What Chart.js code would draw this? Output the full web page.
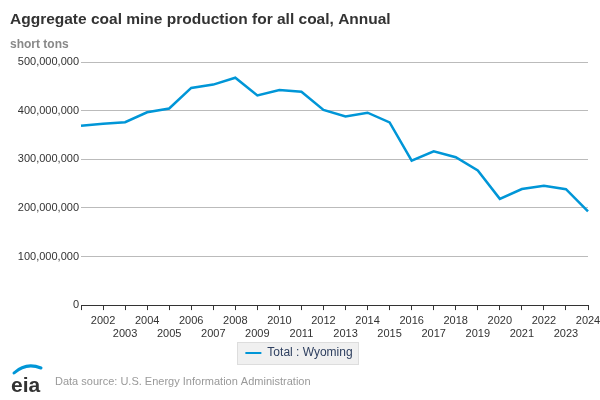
<!DOCTYPE html>
<html>
<head>
<meta charset="utf-8">
<script src="https://cdn.jsdelivr.net/npm/chart.js@4/dist/chart.umd.min.js"></script>
<style>
  html, body { margin: 0; padding: 0; background: #fff; }
  #wrap { width: 600px; height: 400px; }
</style>
</head>
<body>
<div id="wrap"><canvas id="chart" width="600" height="400"></canvas></div>
<script>
const years = ['2001', '2002', '2003', '2004', '2005', '2006', '2007', '2008', '2009', '2010', '2011', '2012',
  '2013', '2014', '2015', '2016', '2017', '2018', '2019', '2020', '2021', '2022', '2023', '2024'];
const wyoming = [368749, 373161, 376270, 396493, 404319, 446742, 453568, 467644, 431107, 442522, 438673, 401442,
  387924, 395665, 375773, 297218, 316454, 304188, 276890, 218458, 238713, 245300, 238500, 193000].map(v => v * 1000);
const yTicks = [0, 100000000, 200000000, 300000000, 400000000, 500000000];

const FONT = 'Arial, "Liberation Sans", Helvetica, sans-serif';
const BLUE = '#0096d7';

const legendBox = {
  id: 'legendBox',
  beforeDraw(chart) {
    const lg = chart.legend;
    if (!lg || !lg.legendHitBoxes.length) return;
    const hb = lg.legendHitBoxes[0];
    const ctx = chart.ctx;
    ctx.save();
    ctx.fillStyle = '#f0f0f0';
    ctx.strokeStyle = '#dddddd';
    ctx.lineWidth = 1;
    const x = Math.round(hb.left - 8) + 0.5, y = Math.round(hb.top - 5) + 0.5;
    const w = Math.round(hb.width + 14), h = Math.round(hb.height + 10);
    ctx.fillRect(x, y, w, h);
    ctx.strokeRect(x, y, w, h);
    ctx.restore();
  }
};

const footer = {
  id: 'footer',
  afterDraw(chart) {
    const ctx = chart.ctx;
    ctx.save();
    // eia logo
    ctx.fillStyle = '#333333';
    ctx.font = 'bold 21px ' + FONT;
    ctx.textBaseline = 'alphabetic';
    ctx.fillText('eia', 11, 392);
    ctx.strokeStyle = BLUE;
    ctx.lineWidth = 3;
    ctx.lineCap = 'round';
    ctx.beginPath();
    ctx.moveTo(14, 373);
    ctx.quadraticCurveTo(26, 362, 41, 368);
    ctx.stroke();
    // source text
    ctx.fillStyle = '#999999';
    ctx.font = '11px ' + FONT;
    ctx.textBaseline = 'middle';
    ctx.fillText('Data source: U.S. Energy Information Administration', 55, 382);
    ctx.restore();
  }
};

new Chart(document.getElementById('chart'), {
  type: 'line',
  data: {
    labels: years,
    datasets: [{
      label: 'Total : Wyoming',
      data: wyoming,
      borderColor: BLUE,
      backgroundColor: BLUE,
      borderWidth: 2.5,
      pointRadius: 0,
      tension: 0,
    }]
  },
  options: {
    responsive: false,
    animation: false,
    layout: { padding: { left: 10, right: 12, top: 0, bottom: 31 } },
    plugins: {
      title: {
        display: true,
        text: 'Aggregate coal mine production for all coal, Annual',
        align: 'start',
        color: '#333333',
        font: { family: FONT, size: 15.5, weight: 'bold' },
        padding: { top: 10, bottom: 0 },
      },
      subtitle: {
        display: true,
        text: 'short tons',
        align: 'start',
        color: '#888888',
        font: { family: FONT, size: 12, weight: 'bold' },
        padding: { top: 9, bottom: 10 },
      },
      legend: {
        position: 'bottom',
        labels: {
          color: '#2f4060',
          font: { family: FONT, size: 12 },
          boxWidth: 16,
          boxHeight: 2,
          padding: 2.5,
          generateLabels(chart) {
            return chart.data.datasets.map((ds, i) => ({
              text: ds.label,
              fillStyle: ds.borderColor,
              strokeStyle: ds.borderColor,
              lineWidth: 0,
              fontColor: '#2f4060',
              datasetIndex: i,
            }));
          }
        }
      },
      tooltip: { enabled: false },
    },
    scales: {
      x: {
        afterFit(scale) { scale.paddingRight = 0; scale.paddingLeft = 0; },
        grid: { drawOnChartArea: false, drawTicks: true, tickLength: 5, color: '#333333' },
        border: { display: true, color: '#333333' },
        ticks: {
          color: '#333333',
          font: { family: FONT, size: 11 },
          autoSkip: false,
          maxRotation: 0,
          padding: 4,
          callback(value, index) {
            const y = years[index];
            if (index === 0) return '';
            return (Number(y) % 2 === 0) ? y : ['', y];
          }
        }
      },
      y: {
        min: 0,
        max: 500000000,
        afterBuildTicks(scale) { scale.ticks = yTicks.map(v => ({ value: v })); },
        afterFit(scale) { scale.width = 71; },
        grid: { color: '#bbbbbb', drawTicks: false },
        border: { display: false },
        ticks: {
          color: '#333333',
          font: { family: FONT, size: 11 },
          padding: 2,
          callback: v => v.toLocaleString('en-US'),
        }
      }
    }
  },
  plugins: [legendBox, footer]
});
</script>
</body>
</html>
